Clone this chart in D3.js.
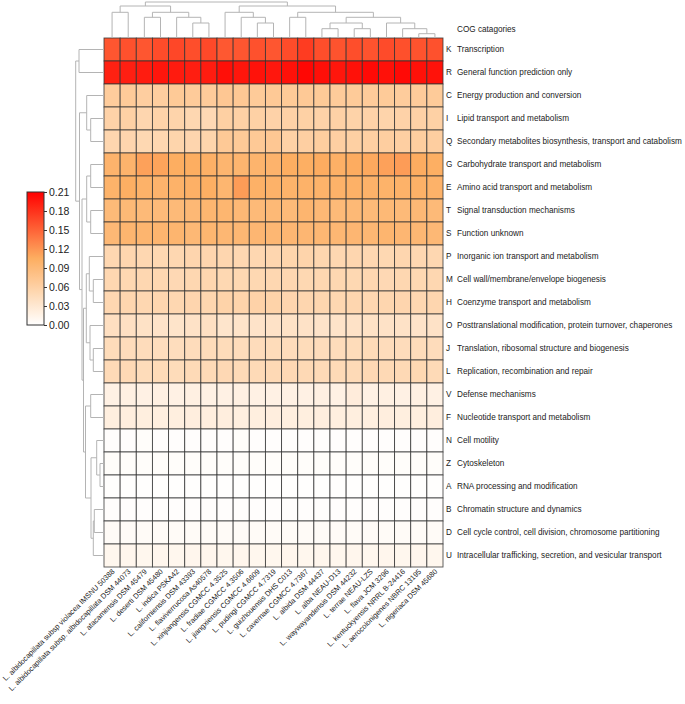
<!DOCTYPE html>
<html>
<head>
<meta charset="utf-8">
<script src="https://cdn.jsdelivr.net/npm/d3@7"></script>
<style>
  body { margin: 0; background: #fff; }
  text { font-family: "Liberation Sans", Arial, sans-serif; fill: #222; }
</style>
</head>
<body>
<div id="chart"></div>
<script>
// species (columns, in dendrogram order)
var species = [
  "L. albidocapillata subsp violacea IMSNU 50388",
  "L. albidocapillata subsp. albidocapillata DSM 44073",
  "L. atacamensis DSM 45479",
  "L. deserti DSM 45480",
  "L. indica PSKA42",
  "L. californiensis DSM 43393",
  "L. flaviverrucosa As40578",
  "L. xinjiangensis CGMCC 4.3525",
  "L. fradiae CGMCC 4.3506",
  "L. jiangxiensis CGMCC 4.6609",
  "L. pudingi CGMCC 4.7319",
  "L. guizhouensis DHS C013",
  "L. cavernae CGMCC 4.7367",
  "L. albida DSM 44437",
  "L. alba NEAU-D13",
  "L. waywayandensis DSM 44232",
  "L. terrae NEAU-LZS",
  "L. flava JCM 3296",
  "L. kentuckyensis NRRL B-24416",
  "L. aerocolonigenes NBRC 13195",
  "L. nigeriaca DSM 45680"
];

var cogCodes = ["K","R","C","I","Q","G","E","T","S","P","M","H","O","J","L","V","F","N","Z","A","B","D","U"];
var cogNames = [
  "Transcription",
  "General function prediction only",
  "Energy production and conversion",
  "Lipid transport and metabolism",
  "Secondary metabolites biosynthesis, transport and catabolism",
  "Carbohydrate transport and metabolism",
  "Amino acid transport and metabolism",
  "Signal transduction mechanisms",
  "Function unknown",
  "Inorganic ion transport and metabolism",
  "Cell wall/membrane/envelope biogenesis",
  "Coenzyme transport and metabolism",
  "Posttranslational modification, protein turnover, chaperones",
  "Translation, ribosomal structure and biogenesis",
  "Replication, recombination and repair",
  "Defense mechanisms",
  "Nucleotide transport and metabolism",
  "Cell motility",
  "Cytoskeleton",
  "RNA processing and modification",
  "Chromatin structure and dynamics",
  "Cell cycle control, cell division, chromosome partitioning",
  "Intracellular trafficking, secretion, and vesicular transport"
];

// relative frequency, one row per COG category, one value per species
var freq = [
  [0.158,0.161,0.158,0.164,0.167,0.163,0.166,0.157,0.158,0.161,0.158,0.164,0.174,0.163,0.160,0.163,0.160,0.165,0.162,0.160,0.161], // K
  [0.190,0.191,0.193,0.197,0.194,0.192,0.193,0.201,0.197,0.199,0.196,0.200,0.206,0.201,0.197,0.200,0.204,0.200,0.204,0.200,0.199], // R
  [0.066,0.068,0.063,0.064,0.069,0.067,0.067,0.072,0.071,0.068,0.070,0.069,0.070,0.069,0.067,0.068,0.067,0.068,0.066,0.067,0.068], // C
  [0.058,0.060,0.053,0.057,0.056,0.052,0.050,0.061,0.060,0.060,0.058,0.059,0.060,0.058,0.059,0.057,0.058,0.056,0.058,0.059,0.060], // I
  [0.053,0.054,0.051,0.052,0.055,0.054,0.055,0.070,0.069,0.070,0.072,0.060,0.062,0.064,0.062,0.061,0.062,0.063,0.062,0.064,0.063], // Q
  [0.098,0.098,0.113,0.111,0.105,0.105,0.102,0.096,0.096,0.097,0.098,0.105,0.104,0.106,0.102,0.106,0.108,0.113,0.116,0.106,0.104], // G
  [0.099,0.104,0.100,0.098,0.100,0.102,0.104,0.095,0.116,0.101,0.100,0.099,0.100,0.099,0.100,0.101,0.100,0.099,0.100,0.101,0.100], // E
  [0.090,0.091,0.090,0.089,0.090,0.092,0.095,0.095,0.092,0.090,0.091,0.090,0.096,0.092,0.090,0.091,0.090,0.091,0.090,0.092,0.090], // T
  [0.092,0.096,0.096,0.096,0.096,0.092,0.095,0.093,0.093,0.094,0.093,0.094,0.094,0.093,0.093,0.094,0.093,0.096,0.094,0.093,0.092], // S
  [0.052,0.053,0.052,0.051,0.052,0.054,0.054,0.053,0.052,0.052,0.053,0.055,0.056,0.053,0.052,0.053,0.052,0.051,0.053,0.052,0.052], // P
  [0.052,0.051,0.052,0.052,0.050,0.052,0.053,0.051,0.051,0.051,0.052,0.052,0.051,0.052,0.052,0.051,0.052,0.050,0.052,0.051,0.052], // M
  [0.052,0.053,0.052,0.053,0.052,0.054,0.053,0.057,0.056,0.058,0.057,0.054,0.053,0.053,0.052,0.053,0.052,0.053,0.054,0.052,0.053], // H
  [0.041,0.040,0.038,0.036,0.035,0.037,0.040,0.034,0.035,0.036,0.037,0.038,0.037,0.036,0.036,0.037,0.038,0.037,0.037,0.036,0.037], // O
  [0.046,0.045,0.045,0.044,0.044,0.045,0.046,0.046,0.045,0.045,0.046,0.045,0.046,0.045,0.045,0.046,0.047,0.045,0.045,0.046,0.045], // J
  [0.048,0.049,0.046,0.047,0.046,0.048,0.048,0.050,0.048,0.048,0.049,0.050,0.049,0.048,0.048,0.048,0.050,0.049,0.049,0.051,0.048], // L
  [0.018,0.019,0.018,0.019,0.018,0.019,0.018,0.018,0.019,0.018,0.018,0.018,0.018,0.019,0.018,0.024,0.018,0.019,0.018,0.019,0.018], // V
  [0.021,0.022,0.021,0.021,0.021,0.022,0.022,0.022,0.021,0.021,0.022,0.021,0.021,0.022,0.021,0.021,0.021,0.022,0.021,0.021,0.022], // F
  [0.002,0.002,0.003,0.002,0.002,0.002,0.002,0.002,0.003,0.002,0.002,0.002,0.002,0.002,0.002,0.002,0.002,0.002,0.002,0.002,0.002], // N
  [0.003,0.003,0.003,0.003,0.003,0.003,0.003,0.003,0.003,0.003,0.003,0.003,0.003,0.003,0.003,0.003,0.003,0.003,0.003,0.003,0.003], // Z
  [0.001,0.001,0.001,0.001,0.001,0.001,0.001,0.001,0.001,0.001,0.001,0.001,0.001,0.001,0.001,0.001,0.001,0.001,0.001,0.001,0.001], // A
  [0.002,0.002,0.002,0.002,0.002,0.002,0.002,0.002,0.002,0.002,0.002,0.002,0.002,0.002,0.002,0.002,0.002,0.002,0.002,0.002,0.002], // B
  [0.005,0.005,0.005,0.005,0.005,0.005,0.005,0.005,0.005,0.005,0.005,0.005,0.005,0.005,0.005,0.005,0.005,0.005,0.005,0.005,0.005], // D
  [0.011,0.012,0.011,0.012,0.011,0.012,0.012,0.011,0.012,0.011,0.011,0.012,0.011,0.012,0.011,0.012,0.011,0.012,0.011,0.012,0.011]  // U
];

// dendrograms: [height, left, right], leaves are column / row indices
var colTree = [36, [32, [25.7, 0, 1], [25.7, [20.7, 2, 3], [20.7, 4, [15, 5, 6]]]],
                   [32, [25.7, 7, [20.7, 8, [15, 9, 10]]],
                        [25.7, [20.7, 11, 12],
                               [20.7, [15, [9.3, 13, 14], [9.3, 15, 16]],
                                      [15, 17, [9.3, 18, [4.3, 19, 20]]]]]]];
var rowTree = [28.3, [25, 0, 1],
                     [24.5, [17.3, 2, [13.3, 3, 4]],
                            [22, [17.3, [13.3, 5, 6], [13.3, 7, 8]],
                                 [20.5, [17.7, [14.7, 9, [10.7, 10, 11]], [14, 12, [10.7, 13, 14]]],
                                        [18.5, [13.3, 15, 16],
                                               [13, [7.3, 17, [4, 18, 19]], [10.7, [9.7, 20, 21], 22]]]]]]];

var legendTicks = [0, 0.03, 0.06, 0.09, 0.12, 0.15, 0.18, 0.21];

var width = 685, height = 704;
var heat = { left: 104, right: 443, top: 38, bottom: 567 };

var svg = d3.select("#chart").append("svg")
  .attr("width", width)
  .attr("height", height);

var x = d3.scaleBand().domain(d3.range(species.length)).range([heat.left, heat.right]);
var y = d3.scaleBand().domain(d3.range(cogCodes.length)).range([heat.top, heat.bottom]);

var color = d3.scaleLinear()
  .domain([0, 0.105, 0.21])
  .range(["#ffffff", "#fdae61", "#ff0000"])
  .clamp(true);

// cells
var cells = [];
freq.forEach(function(row, i) {
  row.forEach(function(v, j) { cells.push({ r: i, c: j, v: v }); });
});

svg.append("g").selectAll("rect")
  .data(cells)
  .enter().append("rect")
  .attr("x", d => x(d.c))
  .attr("y", d => y(d.r))
  .attr("width", x.bandwidth())
  .attr("height", y.bandwidth())
  .attr("fill", d => color(d.v))
  .attr("stroke", "#333")
  .attr("stroke-opacity", 0.85)
  .attr("stroke-width", 0.9);

// column dendrogram
var colH = d3.scaleLinear().domain([0, colTree[0]]).range([heat.top, 2]);
var dendro = svg.append("g")
  .attr("fill", "none")
  .attr("stroke", "#b4b4b4")
  .attr("stroke-width", 1);

function drawCol(node) {
  if (typeof node === "number") return { pos: x(node) + x.bandwidth() / 2, h: 0 };
  var a = drawCol(node[1]), b = drawCol(node[2]);
  var yy = colH(node[0]);
  dendro.append("path")
    .attr("d", "M" + a.pos + "," + colH(a.h) + "V" + yy + "H" + b.pos + "V" + colH(b.h));
  return { pos: (a.pos + b.pos) / 2, h: node[0] };
}
drawCol(colTree);

// row dendrogram
var rowH = d3.scaleLinear().domain([0, rowTree[0]]).range([heat.left, heat.left - rowTree[0]]);
function drawRow(node) {
  if (typeof node === "number") return { pos: y(node) + y.bandwidth() / 2, h: 0 };
  var a = drawRow(node[1]), b = drawRow(node[2]);
  var xx = rowH(node[0]);
  dendro.append("path")
    .attr("d", "M" + rowH(a.h) + "," + a.pos + "H" + xx + "V" + b.pos + "H" + rowH(b.h));
  return { pos: (a.pos + b.pos) / 2, h: node[0] };
}
drawRow(rowTree);

// row labels
var rowLab = svg.append("g").style("font-size", "8.2px");
rowLab.append("text")
  .attr("x", 457)
  .attr("y", heat.top - 6)
  .text("COG catagories");
rowLab.selectAll(".code")
  .data(cogCodes)
  .enter().append("text")
  .attr("class", "code")
  .attr("x", heat.right + 3)
  .attr("y", (d, i) => y(i) + y.bandwidth() / 2)
  .attr("dy", "0.35em")
  .text(d => d);
rowLab.selectAll(".name")
  .data(cogNames)
  .enter().append("text")
  .attr("class", "name")
  .attr("x", 457)
  .attr("y", (d, i) => y(i) + y.bandwidth() / 2)
  .attr("dy", "0.35em")
  .text(d => d);

// column labels
svg.append("g").style("font-size", "7.4px")
  .selectAll("text")
  .data(species)
  .enter().append("text")
  .attr("text-anchor", "end")
  .attr("transform", (d, i) => "translate(" + (x(i) + x.bandwidth() / 2 + 3) + "," + (heat.bottom + 5) + ") rotate(-45)")
  .text(d => d);

// legend
var lg = { x: 27, w: 17, top: 192, bottom: 325 };
var legScale = d3.scaleLinear().domain([0, 0.21]).range([lg.bottom, lg.top]);

var grad = svg.append("defs").append("linearGradient")
  .attr("id", "lgrad")
  .attr("x1", 0).attr("y1", 1).attr("x2", 0).attr("y2", 0);
grad.selectAll("stop")
  .data(d3.range(0, 1.0001, 0.05))
  .enter().append("stop")
  .attr("offset", d => d)
  .attr("stop-color", d => color(d * 0.21));

svg.append("rect")
  .attr("x", lg.x)
  .attr("y", lg.top)
  .attr("width", lg.w)
  .attr("height", lg.bottom - lg.top)
  .attr("fill", "url(#lgrad)")
  .attr("stroke", "#333")
  .attr("stroke-width", 1);

var legAxis = svg.append("g")
  .attr("transform", "translate(" + (lg.x + lg.w) + ",0)")
  .call(d3.axisRight(legScale).tickValues(legendTicks).tickSize(3).tickFormat(d3.format(".2f")));
legAxis.select(".domain").remove();
legAxis.selectAll("line").attr("stroke", "#333");
legAxis.selectAll("text")
  .attr("x", 5)
  .style("font-size", "10.5px")
  .style("font-family", "'Liberation Sans', Arial, sans-serif")
  .attr("fill", "#222");
</script>
</body>
</html>
